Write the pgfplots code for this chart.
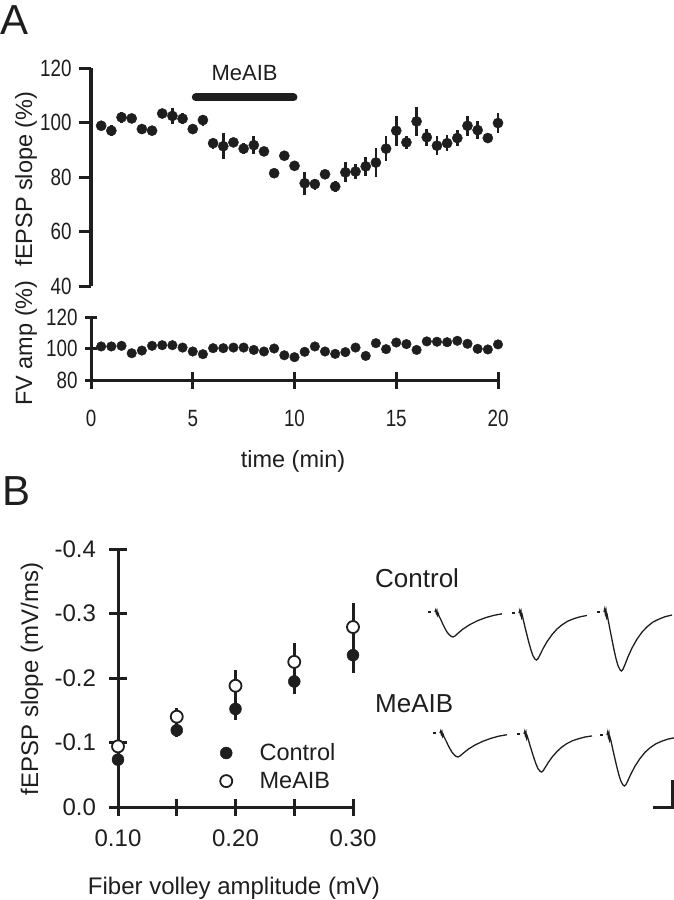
\documentclass[border=0pt]{standalone}
\usepackage{pgfplots}
\pgfplotsset{compat=1.18}
\usepackage{fontspec}
\setmainfont{Liberation Sans}
\newfontfamily\condfont[FakeStretch=0.8]{Liberation Sans}
\definecolor{fg}{RGB}{30,30,30}
\newcommand{\fA}{\fontsize{23.5bp}{28bp}\selectfont}
\newcommand{\fAt}{\condfont\fontsize{23.5bp}{28bp}\selectfont}
\newcommand{\fB}{\fontsize{24bp}{29bp}\selectfont}
\pgfplotsset{
  common/.style={scale only axis, clip=false, anchor=south west,
    axis line style={line width=3bp, fg},
    tick style={line width=3bp, fg},
    tick align=outside, minor tick num=0},
  noarrows/.style={x axis line style={-}, y axis line style={-}},
}
\begin{document}
\begin{tikzpicture}
\path[use as bounding box] (0,0) rectangle (674bp,-900bp);
% panel letters
\node[anchor=base west, inner sep=0, font=\fontsize{42bp}{46bp}\selectfont, text=fg] at (0bp,-34bp) {A};
\node[anchor=base west, inner sep=0, font=\fontsize{42bp}{46bp}\selectfont, text=fg] at (2bp,-505bp) {B};
% ---------- Panel A top: fEPSP slope
\begin{axis}[common, at={(91bp,-286bp)}, width=407bp, height=218bp,
  xmin=0, xmax=20, ymin=40, ymax=120,
  axis x line=none, axis y line*=left, xtick=\empty,
  ytick={40,60,80,100,120}, yticklabels={40,60,80,100,120},
  major tick length=12bp,
  yticklabel style={font=\fAt, text=fg, xshift=-4bp}, noarrows]
\addplot[fg, line width=8bp, line cap=round] coordinates {(5.15,109.2) (9.95,109.2)};
\node[font=\fontsize{22bp}{26bp}\selectfont, text=fg] at (axis cs:7.55,118.2) {MeAIB};
\addplot[only marks, mark=*, mark size=5.1bp, fg,
  error bars/.cd, y dir=both, y explicit, error mark=none,
  error bar style={line width=2.7bp, fg}]
coordinates {
(0.5,98.8) +- (0,1.5)
(1.0,97.0) +- (0,2)
(1.5,101.9) +- (0,2.1)
(2.0,101.5) +- (0,1.5)
(2.5,97.6) +- (0,1)
(3.0,97.0) +- (0,1)
(3.5,103.3) +- (0,1.2)
(4.0,102.4) +- (0,3)
(4.5,101.4) +- (0,2)
(5.0,97.6) +- (0,1.5)
(5.5,100.9) +- (0,2)
(6.0,92.4) +- (0,2)
(6.5,91.3) +- (0,4.8)
(7.0,92.7) +- (0,1.5)
(7.5,90.4) +- (0,2)
(8.0,91.7) +- (0,3.2)
(8.5,89.4) +- (0,1.5)
(9.0,81.4) +- (0,1)
(9.5,87.8) +- (0,1)
(10.0,84.1) +- (0,1.5)
(10.5,77.7) +- (0,4.2)
(11.0,77.4) +- (0,2)
(11.5,81.0) +- (0,1.5)
(12.0,76.5) +- (0,2)
(12.5,81.7) +- (0,3.7)
(13.0,82.0) +- (0,2.8)
(13.5,83.9) +- (0,3.5)
(14.0,85.3) +- (0,5.2)
(14.5,90.4) +- (0,4.5)
(15.0,97.0) +- (0,5.5)
(15.5,92.7) +- (0,2.5)
(16.0,100.4) +- (0,5.4)
(16.5,94.6) +- (0,3.2)
(17.0,91.5) +- (0,3.4)
(17.5,92.4) +- (0,3)
(18.0,94.3) +- (0,2.9)
(18.5,98.8) +- (0,3.7)
(19.0,97.2) +- (0,3.4)
(19.5,94.3) +- (0,1.5)
(20.0,99.8) +- (0,3.8)
};
\end{axis}
\node[rotate=90, font=\fA, text=fg] at (26bp,-179bp) {fEPSP slope (\%)};
% ---------- Panel A bottom: FV amp
\begin{axis}[common, at={(91bp,-380bp)}, width=407bp, height=63bp,
  xmin=0, xmax=20, ymin=80, ymax=120,
  axis lines=left,
  xtick={0,5,10,15,20}, xticklabels={0,5,10,15,20},
  ytick={80,100,120}, yticklabels={80,100,120},
  major tick length=12bp,
  xtick style={/pgfplots/major tick length=17bp},
  xticklabel style={font=\fAt, text=fg, yshift=-21bp},
  yticklabel style={font=\fAt, text=fg, xshift=-4bp}, noarrows]
\addplot[only marks, mark=*, mark size=4.8bp, fg] coordinates {
(0.5,101.3) (1.0,101.3) (1.5,101.7) (2.0,97.0) (2.5,98.7) (3.0,101.7)
(3.5,102.1) (4.0,102.1) (4.5,100.6) (5.0,98.1) (5.5,96.4) (6.0,100.2)
(6.5,100.2) (7.0,100.6) (7.5,100.6) (8.0,99.1) (8.5,98.1) (9.0,100.0)
(9.5,95.7) (10.0,94.5) (10.5,97.9) (11.0,101.3) (11.5,98.1) (12.0,96.6)
(12.5,97.7) (13.0,100.6) (13.5,95.3) (14.0,103.4) (14.5,99.6) (15.0,103.8)
(15.5,102.8) (16.0,99.1) (16.5,104.5) (17.0,104.3) (17.5,104.0) (18.0,104.9)
(18.5,103.0) (19.0,99.8) (19.5,99.4) (20.0,102.6)
};
\end{axis}
\node[rotate=90, font=\fA, text=fg] at (26bp,-343bp) {FV amp (\%)};
\node[font=\fA, text=fg] at (293bp,-461bp) {time (min)};
% ---------- Panel B scatter
\begin{axis}[common, at={(118bp,-807bp)}, width=235bp, height=258bp,
  xmin=0.1, xmax=0.3, ymin=-0.4, ymax=0, y dir=reverse,
  axis lines=left,
  xtick={0.1,0.15,0.2,0.25,0.3}, xticklabels={0.10,,0.20,,0.30},
  ytick={-0.4,-0.3,-0.2,-0.1,0}, yticklabels={-0.4,-0.3,-0.2,-0.1,0.0},
  major tick length=17bp,
  xticklabel style={font=\fB, text=fg, yshift=-11bp},
  yticklabel style={font=\fB, text=fg, xshift=-10bp},
  legend style={draw=none, fill=none, font=\fontsize{23.5bp}{28bp}\selectfont, text=fg,
    at={(axis cs:0.182,-0.020)}, anchor=south west, row sep=6bp},
  legend cell align=left,
  legend image code/.code={\path (-0.3cm,0cm) (1.1cm,0cm); \draw[#1] plot coordinates {(0cm,0cm)};},
  noarrows]
\addplot[only marks, mark=*, mark size=6bp, fg,
  error bars/.cd, y dir=both, y explicit, error mark=none,
  error bar style={line width=3bp, fg}]
coordinates {
(0.10,-0.0735) +- (0,0.010)
(0.15,-0.119) +- (0,0.010)
(0.20,-0.152) +- (0,0.017)
(0.25,-0.1946) +- (0,0.020)
(0.30,-0.2354) +- (0,0.027)
};
\addlegendentry{Control}
\addplot[only marks, mark=*, mark size=6bp, fg, mark options={fill=white, line width=1.8bp},
  error bars/.cd, y dir=both, y explicit, error mark=none,
  error bar style={line width=3bp, fg}]
coordinates {
(0.10,-0.094) +- (0,0.008)
(0.15,-0.140) +- (0,0.013)
(0.20,-0.188) +- (0,0.024)
(0.25,-0.225) +- (0,0.030)
(0.30,-0.279) +- (0,0.038)
};
\addlegendentry{MeAIB}
\end{axis}
\node[rotate=90, font=\fB, text=fg] at (32bp,-679bp) {fEPSP slope (mV/ms)};
\node[anchor=base, font=\fB, text=fg] at (234bp,-894bp) {Fiber volley amplitude (mV)};
% ---------- Panel B traces
\node[anchor=base west, inner sep=0, font=\fontsize{26bp}{30bp}\selectfont, text=fg] at (375bp,-587bp) {Control};
\node[anchor=base west, inner sep=0, font=\fontsize{26bp}{30bp}\selectfont, text=fg] at (375bp,-712bp) {MeAIB};
\begin{axis}[at={(360bp,-820bp)}, anchor=south west, scale only axis,
  width=320bp, height=260bp, xmin=360, xmax=680, ymin=560, ymax=820,
  y dir=reverse, axis lines=none, clip=false]
% Control traces
\addplot[fg, line width=1.3bp] coordinates {(428,612) (431,612)};
\addplot[fg, line width=1.3bp] coordinates {(435,612) (435.7,610) (436.3,613) (437,611) (437.6,615) (438.2,613.5) (439,616) (441,620) (443,624.5) (445,628.5) (447,632) (449,634.5) (451,636.2) (453,637) (455,636) (458,633.2) (463,629) (470,624.5) (478,620.5) (486,617.5) (494,615.3) (502,613.8)};
\addplot[fg, line width=1.3bp] coordinates {(512,613) (515,613)};
\addplot[fg, line width=1.3bp] coordinates {(519,613) (519.7,610.5) (520.3,614) (521,611.5) (521.6,617) (522.2,615) (523,618.6) (525,627.1) (527,635.1) (529,643.1) (531,650.1) (533,655.8) (535,659.1) (536.5,660) (538,658.6) (540,654.8) (543,648.7) (547,641.7) (552,634.6) (557,629) (562,624.8) (568,621) (574,618.6) (580,616.8) (587,615.4)};
\addplot[fg, line width=1.3bp] coordinates {(597,612) (600,612)};
\addplot[fg, line width=1.3bp] coordinates {(604,612) (604.7,609) (605.3,613.5) (606,610.5) (606.6,617) (607.2,615) (608,619.1) (610,629.7) (612,639.7) (614,649.8) (616,658.6) (618,665.7) (620,669.8) (621.5,671) (623,669.2) (625,664.5) (628,656.8) (632,648) (637,639.1) (642,632.1) (647,626.8) (653,622) (659,619.1) (665,616.7) (672,615)};
% MeAIB traces
\addplot[fg, line width=1.3bp] coordinates {(433,733) (436,733)};
\addplot[fg, line width=1.3bp] coordinates {(440,733) (440.7,731) (441.3,734) (442,732) (442.6,736) (443.2,734.5) (444,736.8) (446,740.7) (448,745) (450,748.8) (452,752.2) (454,754.6) (456,756.3) (458,757) (460,756) (463,753.4) (468,749.3) (475,745) (483,741.2) (491,738.3) (499,736.1) (507,734.7)};
\addplot[fg, line width=1.3bp] coordinates {(517,734) (520,734)};
\addplot[fg, line width=1.3bp] coordinates {(524,734) (524.7,731.5) (525.3,735) (526,732.5) (526.6,738) (527.2,736) (528,738.6) (530,745.4) (532,751.9) (534,758.3) (536,764) (538,768.6) (540,771.2) (541.5,772) (543,770.9) (545,767.8) (548,762.9) (552,757.2) (557,751.5) (562,746.9) (567,743.5) (573,740.5) (579,738.6) (585,737) (592,735.9)};
\addplot[fg, line width=1.3bp] coordinates {(600,735) (603,735)};
\addplot[fg, line width=1.3bp] coordinates {(607,735) (607.7,732) (608.3,736.5) (609,733.5) (609.6,740) (610.2,738) (611,741.1) (613,750.3) (615,759) (617,767.6) (619,775.3) (621,781.4) (623,785) (624.5,786) (626,784.5) (628,780.4) (631,773.8) (635,766.1) (640,758.5) (645,752.3) (650,747.8) (656,743.7) (662,741.1) (668,739.1) (674,737.8)};
% scale bar
\addplot[fg, line width=3bp] coordinates {(653,807) (672,807) (672,780)};
\end{axis}
\end{tikzpicture}
\end{document}
